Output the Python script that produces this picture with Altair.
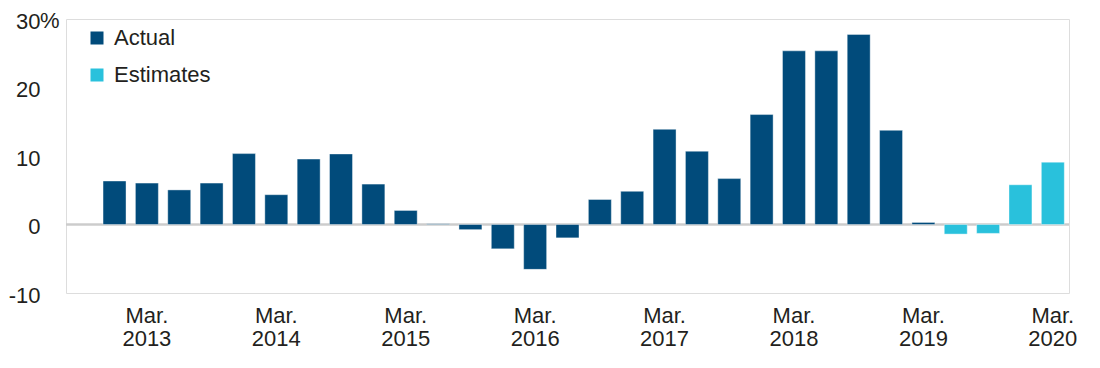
import altair as alt
import pandas as pd

# quarter labels (first category is an empty leading slot)
quarters = [
    "Sep. 2012", "Dec. 2012",
    "Mar. 2013", "Jun. 2013", "Sep. 2013", "Dec. 2013",
    "Mar. 2014", "Jun. 2014", "Sep. 2014", "Dec. 2014",
    "Mar. 2015", "Jun. 2015", "Sep. 2015", "Dec. 2015",
    "Mar. 2016", "Jun. 2016", "Sep. 2016", "Dec. 2016",
    "Mar. 2017", "Jun. 2017", "Sep. 2017", "Dec. 2017",
    "Mar. 2018", "Jun. 2018", "Sep. 2018", "Dec. 2018",
    "Mar. 2019", "Jun. 2019", "Sep. 2019", "Dec. 2019",
    "Mar. 2020",
]
bar_quarters = quarters[1:]
values = [
    6.35, 6.05, 5.05, 6.05, 10.35, 4.35, 9.55, 10.3, 5.9, 2.05,
    0.1, -0.75, -3.55, -6.55, -1.95, 3.65, 4.85, 13.9, 10.7, 6.7,
    16.05, 25.35, 25.35, 27.75, 13.75, 0.3, -1.4, -1.3, 5.8, 9.1,
]
series = ["Actual"] * 26 + ["Estimates"] * 4
tick_quarters = [q for q in quarters if q.startswith("Mar.")]
y_ticks = [-10, 0, 10, 20, 30]

df = pd.DataFrame({"quarter": bar_quarters, "value": values, "series": series})

FONT = "Liberation Sans"
TXT = "#231f20"
DARK = "#014b7b"
LIGHT = "#29c1dc"

x_enc = alt.X(
    "quarter:N",
    sort=quarters,
    scale=alt.Scale(domain=quarters, paddingInner=0.29, paddingOuter=0.145),
    axis=alt.Axis(
        title=None,
        values=tick_quarters,
        labelExpr="split(datum.label, ' ')",
        labelAngle=0,
        labelFont=FONT,
        labelFontSize=22,
        labelColor=TXT,
        labelLineHeight=23,
        labelBaseline="top",
        labelPadding=12,
        ticks=False,
        tickSize=0,
        domain=False,
        grid=False,
    ),
)

y_scale = alt.Scale(domain=[-10, 30], nice=False)

bars = alt.Chart(df).mark_bar(
    stroke="#ffffff", strokeWidth=0.8, strokeOpacity=0.5
).encode(
    x=x_enc,
    y=alt.Y(
        "value:Q",
        scale=y_scale,
        axis=alt.Axis(
            title=None,
            values=y_ticks,
            labelExpr="toString(datum.value)",
            labelFont=FONT,
            labelFontSize=22,
            labelColor=TXT,
            labelPadding=26,
            labelOffset=2,
            ticks=False,
            tickSize=0,
            domain=False,
            grid=False,
        ),
    ),
    color=alt.Color(
        "series:N",
        scale=alt.Scale(domain=["Actual", "Estimates"], range=[DARK, LIGHT]),
        legend=alt.Legend(
            title=None,
            orient="none",
            legendX=20,
            legendY=8,
            symbolType="square",
            symbolSize=169,
            symbolStrokeWidth=0,
            labelFont=FONT,
            labelFontSize=22,
            labelColor=TXT,
            labelOffset=6,
            rowPadding=15,
            padding=0,
        ),
    ),
)

zero_df = pd.DataFrame({"v": [0]})
zero = alt.Chart(zero_df).mark_rule(color="#cccccc", strokeWidth=2.5).encode(
    y=alt.Y("v:Q", scale=y_scale)
)

pct_df = pd.DataFrame({"v": [30], "t": ["%"]})
pct = alt.Chart(pct_df).mark_text(
    align="left", baseline="middle", font=FONT, fontSize=22, color=TXT, dy=2
).encode(
    y=alt.Y("v:Q", scale=y_scale),
    x=alt.value(-26),
    text="t:N",
)

chart = (
    alt.layer(zero, bars, pct)
    .properties(
        width=1003,
        height=274,
        autosize=alt.AutoSizeParams(type="none"),
        padding={"left": 58, "top": 11, "right": 23, "bottom": 57},
    )
    .configure_view(stroke="#d0d0d0", strokeWidth=1.5)
    .configure(background="#ffffff")
)

chart.save("out.html", embed_options={"renderer": "svg", "actions": False})
